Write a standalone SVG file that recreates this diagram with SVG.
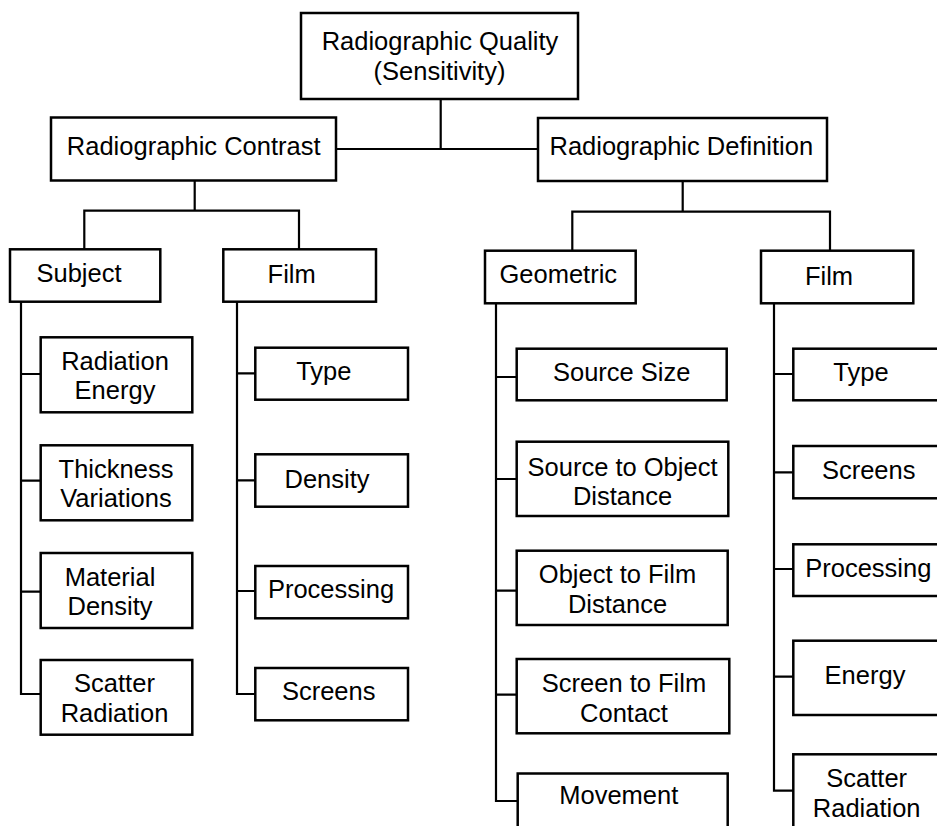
<svg xmlns="http://www.w3.org/2000/svg" width="937" height="826" viewBox="0 0 937 826">
<style>
rect{fill:#fff;stroke:#000;stroke-width:2.5}
#connectors path{fill:none;stroke:#000;stroke-width:2.2}
text{font-family:"Liberation Sans",Arial,sans-serif;font-size:25.5px;text-anchor:middle;fill:#000}
</style>
<rect x="0" y="0" width="937" height="826" style="stroke:none"/>
<g id="connectors">
<path d="M440.7 99V149M336 149H538"/>
<path d="M194.7 180V210.7M84.3 249.3V210.7H299V249.3"/>
<path d="M682.7 181V211.7M572.3 250.7V211.7H830V250.7"/>
<path d="M21 301.7V694H40.7M21 374H40.7M21 480.7H40.7M21 591.7H40.7"/>
<path d="M237 301.7V694H255.3M237 373.3H255.3M237 480.3H255.3M237 591H255.3"/>
<path d="M496 303V801H517.7M496 377H516.7M496 479H516.7M496 590.7H516.7M496 694.7H516.7"/>
<path d="M774 303V790.7H793.3M774 374H793.3M774 472.3H793.3M774 569H793.3M774 676.7H793.3"/>
</g>
<g id="quality"><rect x="301" y="13" width="277" height="86"/><text x="440" y="50">Radiographic Quality</text><text x="439.5" y="80">(Sensitivity)</text></g>
<g id="contrast"><rect x="51" y="117.5" width="285" height="63"/><text x="193.7" y="155">Radiographic Contrast</text></g>
<g id="definition"><rect x="538" y="118" width="289" height="63"/><text x="681.3" y="155">Radiographic Definition</text></g>
<g id="subject"><rect x="10" y="249.3" width="150.3" height="52.4"/><text x="79" y="282">Subject</text></g>
<g id="film-contrast"><rect x="223.3" y="249.3" width="152.7" height="52.4"/><text x="291.7" y="283">Film</text></g>
<g id="geometric"><rect x="485" y="250.7" width="150.7" height="52.6"/><text x="558.3" y="283">Geometric</text></g>
<g id="film-definition"><rect x="761" y="250.7" width="152.3" height="52.6"/><text x="829" y="285">Film</text></g>
<g id="radiation-energy"><rect x="40.7" y="337.3" width="151.6" height="75"/><text x="115" y="370">Radiation</text><text x="115" y="399">Energy</text></g>
<g id="thickness-variations"><rect x="40.7" y="445.3" width="151.6" height="75"/><text x="116" y="477.5">Thickness</text><text x="116" y="507">Variations</text></g>
<g id="material-density"><rect x="40.7" y="553" width="151.6" height="75"/><text x="110" y="585.5">Material</text><text x="110" y="615">Density</text></g>
<g id="scatter-radiation-1"><rect x="40.7" y="660" width="151.6" height="74.7"/><text x="114.5" y="691.7">Scatter</text><text x="114.5" y="721.5">Radiation</text></g>
<g id="type-1"><rect x="255.3" y="347.7" width="152.7" height="52"/><text x="323.8" y="380">Type</text></g>
<g id="density-1"><rect x="255.3" y="454.3" width="152.7" height="52.4"/><text x="327" y="487.5">Density</text></g>
<g id="processing-1"><rect x="255.3" y="566" width="152.7" height="52.3"/><text x="331" y="598">Processing</text></g>
<g id="screens-1"><rect x="255.3" y="668" width="152.7" height="52.3"/><text x="328.7" y="700">Screens</text></g>
<g id="source-size"><rect x="516.7" y="348.7" width="210" height="51.6"/><text x="621.7" y="381">Source Size</text></g>
<g id="source-object"><rect x="516.7" y="441.7" width="211.6" height="74.3"/><text x="622.5" y="476">Source to Object</text><text x="622.5" y="505">Distance</text></g>
<g id="object-film"><rect x="516.7" y="550.7" width="211" height="74.3"/><text x="617.5" y="583.3">Object to Film</text><text x="617.5" y="612.7">Distance</text></g>
<g id="screen-film"><rect x="516.7" y="659" width="212.6" height="74.3"/><text x="624" y="691.7">Screen to Film</text><text x="624" y="721.7">Contact</text></g>
<g id="movement"><rect x="517.7" y="773.5" width="210" height="60"/><text x="618.8" y="803.5">Movement</text></g>
<g id="type-2"><rect x="793.3" y="348.7" width="160" height="51.6"/><text x="861" y="381">Type</text></g>
<g id="screens-2"><rect x="793.3" y="446" width="160" height="52.3"/><text x="868.7" y="479">Screens</text></g>
<g id="processing-2"><rect x="793.3" y="544.3" width="160" height="51.7"/><text x="868.3" y="577">Processing</text></g>
<g id="energy"><rect x="793.3" y="640.7" width="160" height="74.3"/><text x="865" y="684">Energy</text></g>
<g id="scatter-radiation-2"><rect x="793.3" y="754.3" width="160" height="90"/><text x="866.7" y="786.7">Scatter</text><text x="866.7" y="816.7">Radiation</text></g>
</svg>
